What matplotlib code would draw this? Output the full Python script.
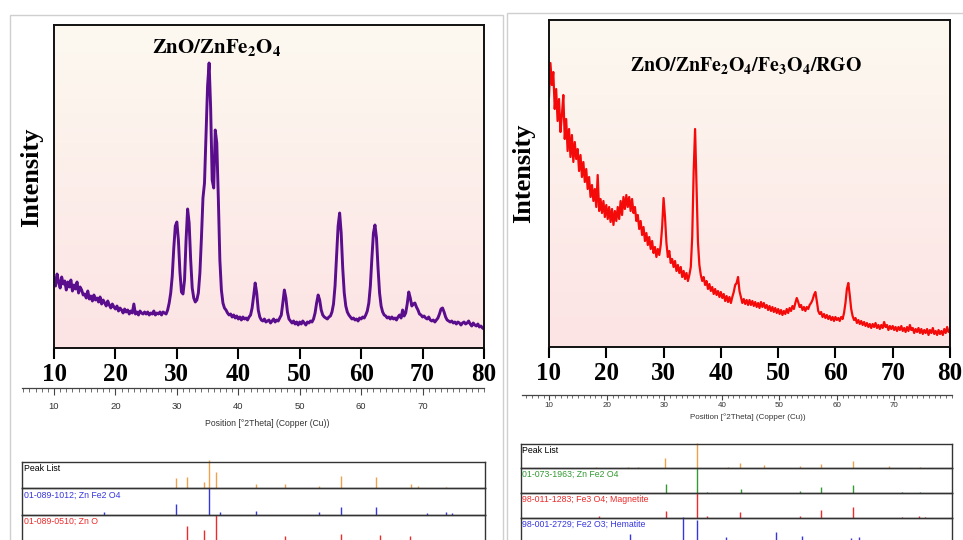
import numpy as np
import matplotlib
matplotlib.use('Agg')
import matplotlib.pyplot as plt
from matplotlib.colors import LinearSegmentedColormap
from matplotlib.patches import Rectangle
from matplotlib.ticker import MultipleLocator

plt.rcParams['mathtext.fontset'] = 'stix'

W, H = 963, 540

# ---------------- data ----------------
two_theta = np.arange(10, 80.001, 0.25)

zno_znfe2o4_intensity = [
    70, 62, 74, 66, 60, 71, 64, 67, 58, 66, 61, 68, 57, 63, 59, 66, 55, 61, 58, 53,
    54, 50, 57, 49, 52, 47, 53, 48, 50, 46, 51, 44, 48, 45, 42, 47, 43, 40, 44, 41,
    39, 42, 37, 40, 38, 35, 39, 36, 38, 34, 37, 35, 44, 34, 36, 33, 37, 35, 34, 36,
    34, 36, 33, 35, 34, 37, 33, 35, 34, 36, 33, 36, 35, 34, 38, 45, 55, 72, 100, 122,
    126, 108, 76, 56, 54, 68, 108, 139, 125, 88, 60, 50, 46, 48, 55, 75, 110, 150, 165, 215,
    262, 285, 240, 168, 160, 218, 205, 150, 88, 58, 45, 40, 38, 35, 33, 34, 31, 33, 30, 32,
    29, 31, 28, 31, 29, 30, 28, 31, 33, 40, 52, 65, 55, 38, 31, 28, 27, 29, 26, 27,
    28, 25, 27, 29, 26, 28, 27, 30, 33, 45, 58, 50, 36, 29, 27, 25, 27, 24, 26, 23,
    26, 24, 27, 25, 23, 26, 25, 27, 26, 29, 35, 45, 53, 48, 38, 33, 31, 30, 29, 31,
    32, 36, 44, 62, 92, 122, 135, 115, 80, 55, 42, 36, 33, 31, 29, 30, 28, 29, 27, 30,
    29, 31, 30, 33, 37, 45, 62, 90, 115, 123, 110, 80, 55, 42, 36, 33, 32, 30, 31, 29,
    31, 29, 30, 28, 31, 33, 30, 38, 32, 35, 44, 56, 50, 42, 44, 45, 41, 38, 34, 33,
    31, 32, 30, 29, 31, 28, 27, 28, 26, 28, 30, 34, 39, 40, 36, 31, 28, 27, 26, 27,
    25, 26, 24, 26, 25, 23, 25, 26, 24, 25, 27, 24, 22, 25, 23, 22, 24, 21, 22, 20,
    19,
]

rgo_composite_intensity = [
    250, 284, 262, 275, 238, 258, 226, 248, 215, 232, 252, 208, 228, 196, 218, 190, 212, 185, 205, 188,
    198, 176, 192, 170, 185, 165, 178, 158, 170, 150, 162, 146, 158, 140, 172, 136, 148, 134, 146, 130,
    142, 128, 140, 125, 138, 122, 136, 126, 140, 128, 146, 132, 150, 138, 152, 140, 150, 136, 148, 134,
    140, 126, 132, 118, 126, 112, 120, 106, 114, 102, 110, 98, 106, 94, 100, 90, 98, 92, 102, 120,
    149, 130, 104, 90, 96, 84, 88, 80, 86, 76, 82, 74, 80, 70, 76, 68, 74, 66, 72, 80,
    110, 175, 218, 160, 105, 82, 72, 66, 70, 62, 66, 58, 63, 56, 60, 53, 58, 52, 56, 50,
    55, 49, 53, 46, 51, 45, 50, 44, 50, 55, 62, 64, 70, 56, 50, 44, 48, 43, 47, 42,
    47, 42, 46, 41, 45, 40, 44, 39, 45, 40, 44, 39, 42, 37, 41, 36, 40, 35, 39, 34,
    38, 33, 37, 32, 36, 33, 38, 34, 39, 36, 41, 38, 44, 49, 45, 40, 42, 37, 40, 36,
    40, 38, 42, 44, 47, 52, 55, 46, 36, 33, 35, 30, 33, 29, 32, 28, 31, 27, 30, 26,
    30, 27, 29, 26, 30, 28, 34, 44, 58, 64, 52, 38, 31, 27, 29, 24, 27, 23, 26, 22,
    25, 21, 24, 20, 23, 19, 23, 20, 24, 19, 22, 18, 22, 19, 25, 20, 22, 17, 21, 18,
    21, 17, 20, 16, 20, 17, 21, 16, 19, 15, 20, 16, 22, 17, 19, 14, 18, 15, 19, 14,
    18, 13, 17, 14, 18, 12, 17, 14, 19, 13, 16, 12, 17, 13, 16, 12, 18, 14, 20, 15,
    17,
]

x_ticks = [10, 20, 30, 40, 50, 60, 70, 80]
ruler_ticks = [10, 20, 30, 40, 50, 60, 70]

left_title = r'$\mathbf{ZnO/ZnFe_2O_4}$'
right_title = r'$\mathbf{ZnO/ZnFe_2O_4/Fe_3O_4/RGO}$'
ruler_label = 'Position [°2Theta] (Copper (Cu))'

# Peak-list stick patterns (position, relative height in % of row)
left_rows_labels = ['Peak List', '01-089-1012; Zn Fe2 O4', '01-089-0510; Zn O']
left_peaklist_pos = [29.86, 31.7, 34.4, 35.3, 36.4, 42.9, 47.6, 53.2, 56.7, 62.4, 68.05, 69.3, 73.8]
left_peaklist_h = [37, 44, 25, 105, 60, 16, 16, 10, 48, 44, 16, 10, 6]
left_znfe2o4_pos = [18.2, 29.9, 35.3, 37.0, 42.9, 53.2, 56.7, 62.4, 70.8, 73.8, 74.8]
left_znfe2o4_h = [10, 41, 100, 10, 15, 10, 31, 31, 6, 10, 6]
left_zno_pos = [31.7, 34.4, 36.3, 47.6, 56.7, 63.0, 68.0]
left_zno_h = [60, 45, 100, 22, 30, 26, 22]

right_rows_labels = ['Peak List', '01-073-1963; Zn Fe2 O4', '98-011-1283; Fe3 O4; Magnetite',
                     '98-001-2729; Fe2 O3; Hematite']
right_peaklist_pos = [18.2, 23.6, 25.4, 30.2, 35.6, 41.0, 43.2, 47.4, 53.6, 57.2, 62.9, 69.1, 74.5]
right_peaklist_h = [6, 6, 6, 41, 104, 6, 23, 14, 8, 16, 30, 9, 4]
right_znfe2o4_pos = [30.3, 35.6, 37.4, 43.3, 53.6, 57.2, 62.9, 71.3, 74.5]
right_znfe2o4_h = [36, 100, 4, 15, 8, 25, 32, 4, 4]
right_fe3o4_pos = [18.6, 30.3, 35.6, 37.4, 43.2, 53.6, 57.2, 62.8, 71.3, 74.3, 75.3]
right_fe3o4_h = [5, 27, 100, 8, 22, 8, 32, 42, 4, 8, 4]
right_fe2o3_pos = [24.1, 33.2, 35.6, 40.8, 49.4, 54.0, 62.4, 63.9]
right_fe2o3_h = [33, 102, 90, 22, 41, 25, 16, 22]

# ---------------- helpers ----------------
def rect(x0, y0, x1, y1):
    return [x0 / W, 1 - y1 / H, (x1 - x0) / W, (y1 - y0) / H]

fig = plt.figure(figsize=(W / 100, H / 100), dpi=100)
fig.patch.set_facecolor('white')

SERIF = ['Liberation Serif', 'DejaVu Serif']
NARROW = ['Liberation Sans Narrow', 'Liberation Sans', 'DejaVu Sans']

# outer light-gray frames
for (x0, y0, x1, y1) in [(10, 15, 503, 560), (507, 13, 980, 560)]:
    fig.add_artist(Rectangle((x0 / W, 1 - y1 / H), (x1 - x0) / W, (y1 - y0) / H,
                             transform=fig.transFigure, fill=False,
                             edgecolor='#cfcfcf', linewidth=1.0))

bg_cmap = LinearSegmentedColormap.from_list('bg', ['#fce3e4', '#fdf9f0'])
grad = np.linspace(0, 1, 256).reshape(-1, 1)


def main_panel(box, y, ymax, color, lw, title, title_xy, title_fs, ylab_x, ylab_y):
    ax = fig.add_axes(rect(*box))
    ax.imshow(grad, extent=[10, 80, 0, ymax], origin='lower', aspect='auto',
              cmap=bg_cmap, zorder=0, interpolation='bilinear')
    ax.plot(two_theta, y, color=color, lw=lw, zorder=2, solid_joinstyle='round')
    ax.set_xlim(10, 80)
    ax.set_ylim(0, ymax)
    ax.set_yticks([])
    ax.set_xticks(x_ticks)
    ax.tick_params(axis='x', direction='out', length=8, width=1.5, pad=3,
                   labelsize=18, colors='black')
    for lbl in ax.get_xticklabels():
        lbl.set_fontfamily(SERIF)
        lbl.set_fontweight('bold')
    for sp in ax.spines.values():
        sp.set_linewidth(1.4)
        sp.set_color('#111111')
    fig.text(title_xy[0] / W, 1 - title_xy[1] / H, title, ha='center', va='center',
             fontsize=title_fs, color='black')
    fig.text(ylab_x / W, 1 - ylab_y / H, 'Intensity', rotation=90, ha='center', va='center',
             fontsize=19, fontweight='bold', family=SERIF)
    return ax


main_panel((54, 25, 484, 348), zno_znfe2o4_intensity, 323, '#5a0d8c', 2.1,
           left_title, (217, 47), 15, 32, 177)
main_panel((549, 20, 950, 347), rgo_composite_intensity, 327, '#f50a0a', 1.6,
           right_title, (746, 65), 14.2, 524, 173)


def ruler(x0, x1, ypx, xmin, xmax, fs, pad, tl, lab_xy, lab_fs):
    ax = fig.add_axes(rect(x0, ypx - 1, x1, ypx))
    ax.set_xlim(xmin, xmax)
    ax.set_ylim(0, 1)
    ax.set_yticks([])
    for s in ['top', 'left', 'right']:
        ax.spines[s].set_visible(False)
    ax.spines['bottom'].set_color('#444444')
    ax.spines['bottom'].set_linewidth(0.9)
    ax.patch.set_visible(False)
    ax.set_xticks(ruler_ticks)
    ax.xaxis.set_minor_locator(MultipleLocator(1))
    ax.tick_params(axis='x', which='major', direction='out', length=tl, width=0.8,
                   colors='#444444', labelsize=fs, pad=pad)
    ax.tick_params(axis='x', which='minor', direction='out', length=tl * 0.55, width=0.6,
                   colors='#555555')
    for lbl in ax.get_xticklabels():
        lbl.set_fontfamily(NARROW)
        lbl.set_fontstretch('condensed')
        lbl.set_color('#333333')
    fig.text(lab_xy[0] / W, 1 - lab_xy[1] / H, ruler_label, ha='center', va='center',
             fontsize=lab_fs, family=NARROW, stretch='condensed', color='#333333')


ruler(22, 484, 388, 10 + (22 - 54) / 6.143, 80, 6.8, 5, 5, (267, 423), 6.2)
ruler(522, 952, 395, 10 + (522 - 549.3) / 5.75, 10 + (952 - 549.3) / 5.75, 5.8, 1.5, 3.5,
      (748, 417), 5.8)


def peak_rows(x0, x1, tops, xmin, xmax, rows, label_x):
    for i, (label, color, pos, hts) in enumerate(rows):
        ax = fig.add_axes(rect(x0, tops[i], x1, tops[i + 1]))
        ax.set_xlim(xmin, xmax)
        ax.set_ylim(0, 100)
        ax.set_xticks([])
        ax.set_yticks([])
        ax.patch.set_visible(False)
        for sp in ax.spines.values():
            sp.set_color('#333333')
            sp.set_linewidth(1.0)
        ax.vlines(pos, 0, hts, color=color, lw=1.0, clip_on=False)
        ax.text(label_x, 0.92, label, transform=ax.get_xaxis_transform(), ha='left', va='top',
                fontsize=6.3, family=NARROW, stretch='condensed',
                color='black' if i == 0 else color)


peak_rows(22, 485, [461.7, 488.3, 515, 541.7], 10 + (22 - 54) / 6.143, 10 + (485 - 54) / 6.143,
          [(left_rows_labels[0], '#f0a24a', left_peaklist_pos, left_peaklist_h),
           (left_rows_labels[1], '#3636e0', left_znfe2o4_pos, left_znfe2o4_h),
           (left_rows_labels[2], '#ee2a2a', left_zno_pos, left_zno_h)],
          5.1)

peak_rows(521, 952, [444.3, 468.3, 492.7, 517.7, 542], 10 + (521 - 549.3) / 5.75,
          10 + (952 - 549.3) / 5.75,
          [(right_rows_labels[0], '#f0a24a', right_peaklist_pos, right_peaklist_h),
           (right_rows_labels[1], '#339933', right_znfe2o4_pos, right_znfe2o4_h),
           (right_rows_labels[2], '#ee2a2a', right_fe3o4_pos, right_fe3o4_h),
           (right_rows_labels[3], '#3636e0', right_fe2o3_pos, right_fe2o3_h)],
          5.3)

fig.savefig('out.png', dpi=100)
